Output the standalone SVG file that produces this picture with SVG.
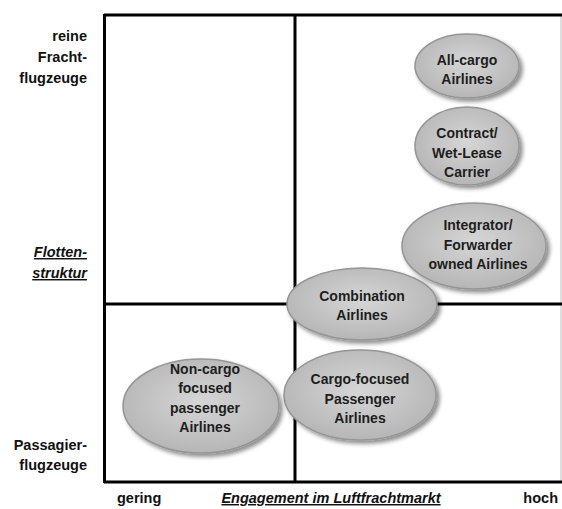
<svg xmlns="http://www.w3.org/2000/svg" width="562" height="509" viewBox="0 0 562 509">
<style>
.frame{stroke:#000;stroke-width:3;fill:none}
.ell{fill:url(#g);stroke:#959595;stroke-width:1.5;filter:url(#sh)}
.t{font-family:"Liberation Sans",Arial,sans-serif;font-weight:bold;font-size:14px;fill:#1e1e1e;text-anchor:middle}
.ax{font-family:"Liberation Sans",Arial,sans-serif;font-weight:bold;font-size:14.5px;fill:#111}
.r{text-anchor:end}
.i{font-style:italic;text-decoration:underline}
</style>
<defs>
<radialGradient id="g" cx="50%" cy="45%" r="55%">
<stop offset="0" stop-color="#d6d6d6"/>
<stop offset="1" stop-color="#b6b6b6"/>
</radialGradient>
<filter id="sh" x="-20%" y="-20%" width="150%" height="150%">
<feDropShadow dx="3" dy="3" stdDeviation="2" flood-color="#000" flood-opacity="0.45"/>
</filter>
</defs>
<rect width="562" height="509" fill="#fff"/>
<g id="axes">
<line x1="561" y1="16" x2="561" y2="481" stroke="#c8c8c8" stroke-width="1.2"/>
<line class="frame" x1="104" y1="15" x2="562" y2="15"/>
<line class="frame" x1="104" y1="482" x2="562" y2="482"/>
<line class="frame" x1="104.5" y1="14" x2="104.5" y2="483"/>
<line class="frame" x1="295" y1="15" x2="295" y2="482"/>
<line class="frame" x1="104" y1="304" x2="562" y2="304"/>
</g>
<g id="labels">
<text class="ax r" x="87" y="41">reine</text>
<text class="ax r" x="87" y="62">Fracht-</text>
<text class="ax r" x="87" y="83">flugzeuge</text>
<text class="ax r i" x="87" y="257">Flotten-</text>
<text class="ax r i" x="87" y="278">struktur</text>
<text class="ax r" x="87" y="450">Passagier-</text>
<text class="ax r" x="87" y="470">flugzeuge</text>
<text class="ax" x="117" y="503">gering</text>
<text class="ax i" x="331" y="503" text-anchor="middle">Engagement im Luftfrachtmarkt</text>
<text class="ax r" x="558" y="503">hoch</text>
</g>
<g id="all-cargo">
<ellipse class="ell" cx="467" cy="66" rx="52" ry="32"/>
<text class="t" x="467" y="65">All-cargo</text>
<text class="t" x="467" y="84">Airlines</text>
</g>
<g id="contract">
<ellipse class="ell" cx="467" cy="146" rx="52" ry="39"/>
<text class="t" x="467" y="138">Contract/</text>
<text class="t" x="467" y="158">Wet-Lease</text>
<text class="t" x="467" y="177">Carrier</text>
</g>
<g id="integrator">
<ellipse class="ell" cx="474" cy="246" rx="72" ry="43"/>
<text class="t" x="478" y="230">Integrator/</text>
<text class="t" x="478" y="250">Forwarder</text>
<text class="t" x="478" y="269">owned Airlines</text>
</g>
<g id="combination">
<ellipse class="ell" cx="362" cy="304" rx="75" ry="36"/>
<text class="t" x="362" y="301">Combination</text>
<text class="t" x="362" y="320">Airlines</text>
</g>
<g id="cargo-focused">
<ellipse class="ell" cx="360" cy="395" rx="76" ry="45"/>
<text class="t" x="360" y="384">Cargo-focused</text>
<text class="t" x="360" y="404">Passenger</text>
<text class="t" x="360" y="423">Airlines</text>
</g>
<g id="non-cargo">
<ellipse class="ell" cx="201" cy="406" rx="78" ry="47"/>
<text class="t" x="205" y="374">Non-cargo</text>
<text class="t" x="205" y="393">focused</text>
<text class="t" x="205" y="413">passenger</text>
<text class="t" x="205" y="432">Airlines</text>
</g>
</svg>
